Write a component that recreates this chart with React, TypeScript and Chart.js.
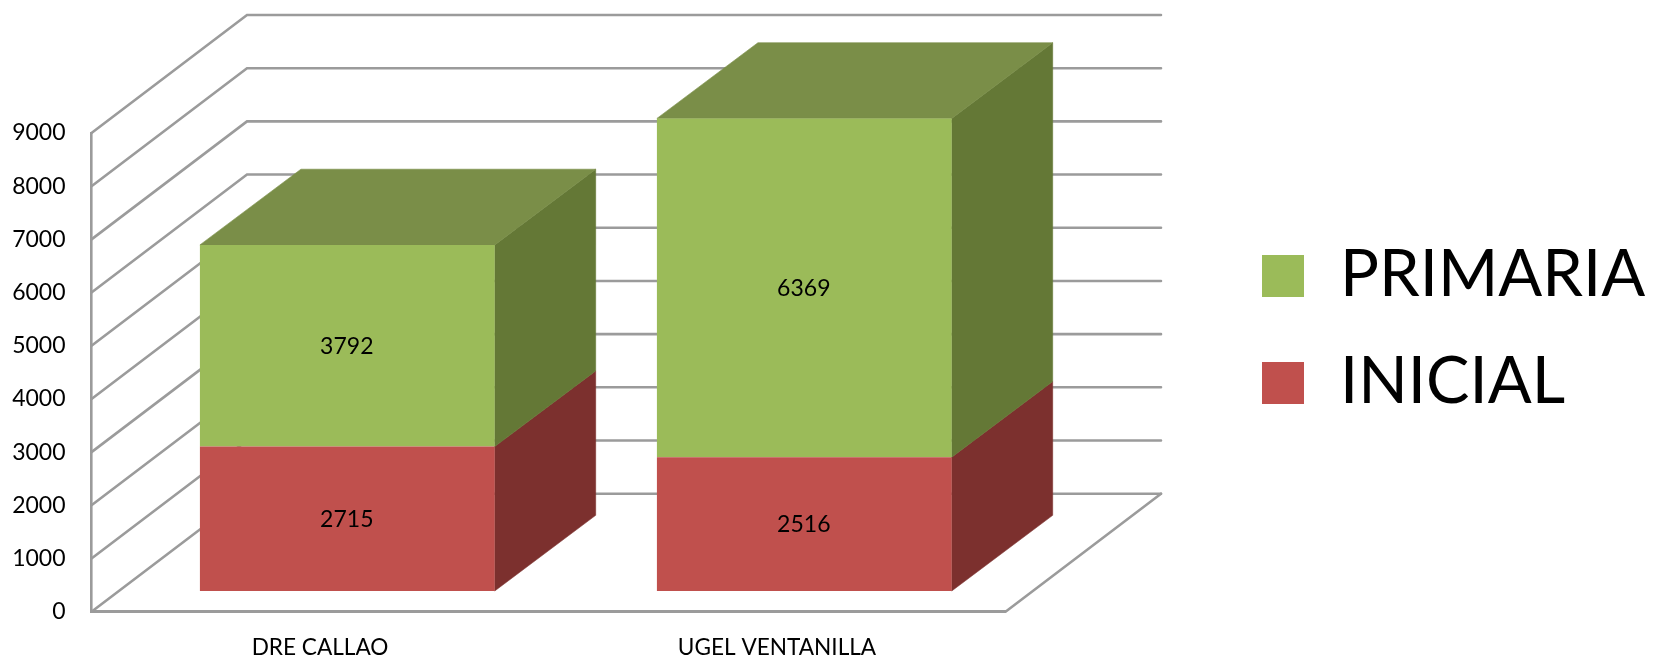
import React, { useEffect, useRef } from "react";
import { Chart, registerables } from "chart.js";

Chart.register(...registerables);

const categories = ["DRE CALLAO", "UGEL VENTANILLA"];
const inicial = [2715, 2516];
const primaria = [3792, 6369];
const seriesNames = ["INICIAL", "PRIMARIA"];
const axisMax = 9000;
const axisStep = 1000;

const FONT = "Lato, Carlito, 'Open Sans', sans-serif";
const GRID = "#9b9b9b";
const RED = "#c0504d";
const GREEN = "#9bbb59";
const SIDES = ["#7c302e", "#647836"];
const TOP = "#7a8e48";

const WALL = { dx: 155.5, dy: 118 };
const PLANE = { dx: 27.3, dy: 20.7 };
const BAR = { dx: 101, dy: 75.7 };

const poly = (ctx: any, pts: number[][], fill: string) => {
  ctx.beginPath();
  pts.forEach((p, i) => (i ? ctx.lineTo(p[0], p[1]) : ctx.moveTo(p[0], p[1])));
  ctx.closePath();
  ctx.fillStyle = fill;
  ctx.fill();
  ctx.strokeStyle = fill;
  ctx.lineWidth = 0.6;
  ctx.stroke();
};

const depthPlugin = {
  id: "depth",
  beforeDatasetsDraw(chart: any) {
    const { ctx, chartArea, scales } = chart;
    const { left, right, bottom } = chartArea;
    ctx.save();
    ctx.strokeStyle = GRID;
    ctx.lineWidth = 2.6;
    ctx.lineCap = "round";
    scales.y.ticks.forEach((t: any) => {
      const y = scales.y.getPixelForValue(t.value);
      ctx.beginPath();
      ctx.moveTo(left, y);
      ctx.lineTo(left + WALL.dx, y - WALL.dy);
      ctx.lineTo(right + WALL.dx, y - WALL.dy);
      ctx.stroke();
    });
    ctx.beginPath();
    ctx.moveTo(right, bottom);
    ctx.lineTo(right + WALL.dx, bottom - WALL.dy);
    ctx.stroke();
    ctx.restore();

    ctx.save();
    ctx.translate(PLANE.dx, -PLANE.dy);
    chart.data.datasets.forEach((_: any, di: number) => {
      const meta = chart.getDatasetMeta(di);
      meta.data.forEach((b: any) => {
        const r = b.x + b.width / 2;
        poly(ctx, [[r, b.base], [r + BAR.dx, b.base - BAR.dy], [r + BAR.dx, b.y - BAR.dy], [r, b.y]], SIDES[di]);
      });
    });
    const topIdx = chart.data.datasets.length - 1;
    chart.getDatasetMeta(topIdx).data.forEach((b: any) => {
      const l = b.x - b.width / 2;
      const r = b.x + b.width / 2;
      poly(ctx, [[l, b.y], [l + BAR.dx, b.y - BAR.dy], [r + BAR.dx, b.y - BAR.dy], [r, b.y]], TOP);
    });
  },
  afterDatasetsDraw(chart: any) {
    const { ctx } = chart;
    ctx.textAlign = "center";
    ctx.textBaseline = "middle";
    ctx.fillStyle = "#000";
    ctx.font = `23px ${FONT}`;
    chart.data.datasets.forEach((ds: any, di: number) => {
      chart.getDatasetMeta(di).data.forEach((b: any, i: number) => {
        ctx.fillText(String(ds.data[i]), b.x - 0.5, (b.y + b.base) / 2 + 0.5);
      });
    });
    ctx.restore();
  },
  afterDraw(chart: any) {
    const { ctx } = chart;
    ctx.save();
    ctx.font = `65px ${FONT}`;
    ctx.textAlign = "left";
    ctx.textBaseline = "middle";
    const order = [...chart.data.datasets].reverse();
    order.forEach((ds: any, i: number) => {
      const cy = 276 + i * 107;
      ctx.fillStyle = ds.backgroundColor;
      ctx.fillRect(1262, cy - 21, 42, 42);
      ctx.fillStyle = "#000";
      ctx.fillText(ds.label, 1340, cy - 1);
    });
    ctx.restore();
  },
};

export default function App() {
  const ref = useRef<HTMLCanvasElement>(null);
  useEffect(() => {
    const chart = new Chart(ref.current as HTMLCanvasElement, {
      type: "bar",
      data: {
        labels: categories,
        datasets: [
          { label: seriesNames[0], data: inicial, backgroundColor: RED, clip: false },
          { label: seriesNames[1], data: primaria, backgroundColor: GREEN, clip: false },
        ],
      },
      options: {
        animation: false,
        responsive: false,
        events: [],
        layout: { padding: { left: 0, right: 1654 - 1005.5, top: 133, bottom: 0 } },
        datasets: { bar: { categoryPercentage: 0.645, barPercentage: 1 } },
        plugins: { legend: { display: false }, tooltip: { enabled: false }, title: { display: false } },
        scales: {
          x: {
            stacked: true,
            afterFit: (s: any) => { s.height = 656 - 611.7; },
            grid: { display: false, drawTicks: false, tickLength: 0 },
            border: { display: true, color: GRID, width: 3 },
            ticks: { color: "#000", font: { family: FONT, size: 22.6 }, padding: 22, maxRotation: 0 },
          },
          y: {
            stacked: true,
            min: 0,
            max: axisMax,
            afterFit: (s: any) => { s.width = 91.5; },
            grid: { display: false, drawTicks: false, tickLength: 0 },
            border: { display: true, color: GRID, width: 2.6 },
            ticks: {
              stepSize: axisStep,
              color: "#000",
              font: { family: FONT, size: 23 },
              padding: 26,
              callback: (v: any) => String(v),
            },
          },
        },
      } as any,
      plugins: [depthPlugin as any],
    });
    return () => chart.destroy();
  }, []);
  return (
    <canvas
      ref={ref}
      width={1654}
      height={656}
      style={{ position: "absolute", left: 0, top: 0, display: "block", width: 1654, height: 656 }}
    />
  );
}
